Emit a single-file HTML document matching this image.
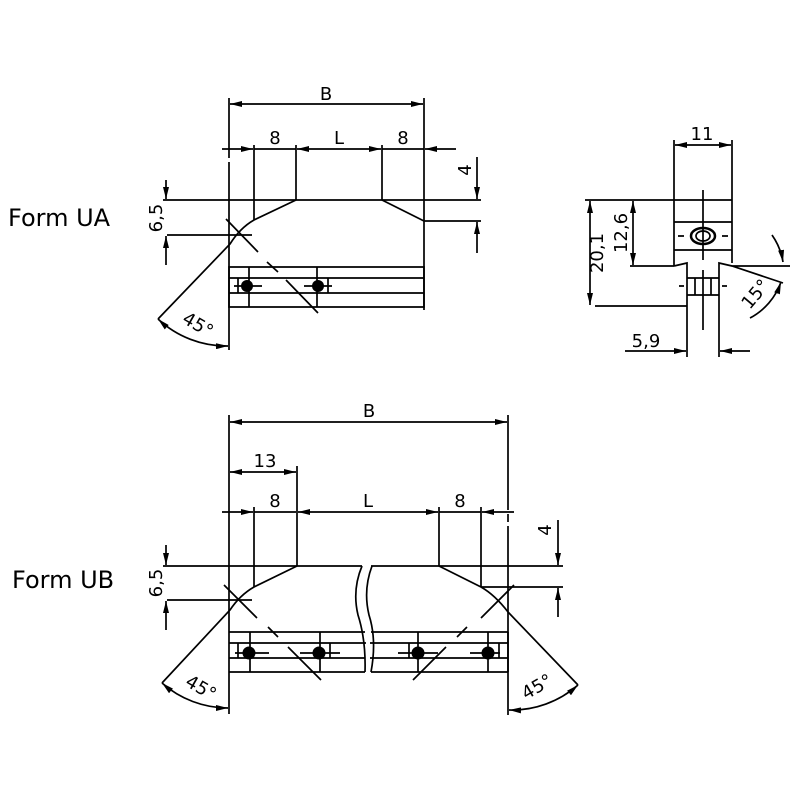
<!DOCTYPE html>
<html><head><style>body{margin:0;background:#fff}svg{display:block}text{font-family:"DejaVu Sans","Liberation Sans",sans-serif;fill:#000}</style></head><body>
<svg width="800" height="800" viewBox="0 0 800 800" xmlns="http://www.w3.org/2000/svg">
<defs>
<marker id="a" viewBox="0 0 12 6" refX="12" refY="3" markerWidth="12" markerHeight="6" markerUnits="userSpaceOnUse" orient="auto-start-reverse"><path d="M0,0L12,3L0,6z"/></marker>
</defs>
<g stroke="#000" stroke-width="1.7" fill="none">
<!-- ===== FORM UA ===== -->
<line x1="229" y1="98" x2="229" y2="350" stroke-dasharray="60,4,200,0"/>
<line x1="424" y1="98" x2="424" y2="310"/>
<line x1="230" y1="104" x2="423" y2="104" marker-start="url(#a)" marker-end="url(#a)"/>
<line x1="222" y1="149" x2="253" y2="149" marker-end="url(#a)"/>
<line x1="254" y1="149" x2="296" y2="149"/>
<line x1="297" y1="149" x2="381" y2="149" marker-start="url(#a)" marker-end="url(#a)"/>
<line x1="382" y1="149" x2="424" y2="149"/>
<line x1="456" y1="149" x2="425" y2="149" marker-end="url(#a)"/>
<line x1="254" y1="145" x2="254" y2="220"/>
<line x1="296" y1="145" x2="296" y2="200"/>
<line x1="382" y1="145" x2="382" y2="200"/>
<path d="M163,200H481M167,235H252M424,221H481"/>
<path d="M296,200L254,220Q240,228 230,244L158,319"/>
<path d="M382,200L424,221"/>
<line x1="166" y1="180" x2="166" y2="199" marker-end="url(#a)"/>
<line x1="166" y1="265" x2="166" y2="236" marker-end="url(#a)"/>
<line x1="477" y1="157" x2="477" y2="199" marker-end="url(#a)"/>
<line x1="477" y1="253" x2="477" y2="222" marker-end="url(#a)"/>
<path d="M229,267H424V307H229ZM229,278H424M229,293H424M238,278V293M328,278V293M249,267V307M317,267V307"/>
<path d="M226,219L258,252M267,262L278,272M286,280L318,313"/>
<path d="M234,286H262M304,286H332"/>
<path d="M158,319 A100,100 0 0 0 228,346" marker-start="url(#a)" marker-end="url(#a)"/>
<!-- ===== RIGHT VIEW ===== -->
<path d="M674,140V266M732,140V263"/>
<line x1="675" y1="145" x2="731" y2="145" marker-start="url(#a)" marker-end="url(#a)"/>
<path d="M585,200H732M630,266H674M595,306H687"/>
<line x1="590" y1="201" x2="590" y2="305" marker-start="url(#a)" marker-end="url(#a)"/>
<line x1="633" y1="201" x2="633" y2="265" marker-start="url(#a)" marker-end="url(#a)"/>
<path d="M674,222H732M674,250H732"/>
<path d="M674,266L687,263V357M719,357V263L732,266L783,283M732,266H790"/>
<path d="M703,190V260M703,270V330M678,236H684M722,236H728M679,286H684M722,286H727"/>
<ellipse cx="703" cy="236" rx="12" ry="8" stroke-width="2.5"/>
<ellipse cx="703" cy="236" rx="7" ry="5"/>
<path d="M687,278H719M687,295H719M695,278V295M711,278V295"/>
<line x1="625" y1="351" x2="686" y2="351" marker-end="url(#a)"/>
<line x1="750" y1="351" x2="720" y2="351" marker-end="url(#a)"/>
<path d="M772,235 A65,65 0 0 1 783,262" marker-end="url(#a)"/>
<path d="M750,318 A65,65 0 0 0 781,282" marker-end="url(#a)"/>
<!-- ===== FORM UB ===== -->
<line x1="229" y1="415" x2="229" y2="714"/>
<line x1="508" y1="415" x2="508" y2="715" stroke-dasharray="95,4,8,4,200,0"/>
<line x1="230" y1="422" x2="507" y2="422" marker-start="url(#a)" marker-end="url(#a)"/>
<line x1="297" y1="466" x2="297" y2="566"/>
<line x1="230" y1="472" x2="296" y2="472" marker-start="url(#a)" marker-end="url(#a)"/>
<line x1="222" y1="512" x2="253" y2="512" marker-end="url(#a)"/>
<line x1="254" y1="512" x2="296" y2="512"/>
<line x1="298" y1="512" x2="438" y2="512" marker-start="url(#a)" marker-end="url(#a)"/>
<line x1="439" y1="512" x2="481" y2="512"/>
<line x1="514" y1="512" x2="482" y2="512" marker-end="url(#a)"/>
<path d="M254,507V587M439,507V566M481,507V587"/>
<path d="M163,566H362M371,566H563M167,600H252M481,587H563"/>
<path d="M297,566L254,587Q240,595 230,610L162,683"/>
<path d="M439,566L481,587Q495,595 508,612L578,685"/>
<path d="M362,566Q352,590 358,615Q366,640 365,672M372,566Q363,590 369,615Q377,640 371,672"/>
<line x1="166" y1="545" x2="166" y2="565" marker-end="url(#a)"/>
<line x1="166" y1="630" x2="166" y2="601" marker-end="url(#a)"/>
<line x1="558" y1="520" x2="558" y2="565" marker-end="url(#a)"/>
<line x1="558" y1="617" x2="558" y2="588" marker-end="url(#a)"/>
<path d="M229,632H365M229,643H366M229,658H365M229,672H365M371,632H508M370,643H508M370,658H508M371,672H508M508,632V672"/>
<path d="M238,643V658M330,643V658M250,632V672M320,632V672M409,643V658M499,643V658M418,632V672M488,632V672"/>
<path d="M235,653H269M300,653H340M398,653H438M470,653H500"/>
<path d="M224,585L257,618M268,627L278,637M288,647L321,680M514,585L481,618M467,627L457,637M446,647L413,680"/>
<path d="M162,683 A100,100 0 0 0 228,708" marker-start="url(#a)" marker-end="url(#a)"/>
<path d="M578,685 A100,100 0 0 1 509,710" marker-start="url(#a)" marker-end="url(#a)"/>
</g>
<g fill="#000">
<circle cx="247" cy="286" r="6"/><circle cx="318" cy="286" r="6"/>
<circle cx="249" cy="653" r="6.5"/><circle cx="319" cy="653" r="6.5"/><circle cx="418" cy="653" r="6.5"/><circle cx="488" cy="653" r="6.5"/>
</g>
<g font-size="18">
<text x="326" y="100" text-anchor="middle">B</text>
<text x="275" y="144" text-anchor="middle">8</text>
<text x="339" y="144" text-anchor="middle">L</text>
<text x="403" y="144" text-anchor="middle">8</text>
<text transform="translate(162,218) rotate(-90)" text-anchor="middle">6,5</text>
<text transform="translate(471,170) rotate(-90)" text-anchor="middle">4</text>
<text transform="translate(195,330) rotate(30)" text-anchor="middle">45°</text>
<text x="702" y="140" text-anchor="middle">11</text>
<text transform="translate(603,253) rotate(-90)" text-anchor="middle">20,1</text>
<text transform="translate(627,233) rotate(-90)" text-anchor="middle">12,6</text>
<text x="646" y="347" text-anchor="middle">5,9</text>
<text transform="translate(760,298) rotate(-50)" text-anchor="middle">15°</text>
<text x="369" y="417" text-anchor="middle">B</text>
<text x="265" y="467" text-anchor="middle">13</text>
<text x="275" y="507" text-anchor="middle">8</text>
<text x="368" y="507" text-anchor="middle">L</text>
<text x="460" y="507" text-anchor="middle">8</text>
<text transform="translate(162,583) rotate(-90)" text-anchor="middle">6,5</text>
<text transform="translate(551,530) rotate(-90)" text-anchor="middle">4</text>
<text transform="translate(198,693) rotate(30)" text-anchor="middle">45°</text>
<text transform="translate(540,692) rotate(-30)" text-anchor="middle">45°</text>
</g>
<g font-size="24">
<text x="8" y="226">Form UA</text>
<text x="12" y="588">Form UB</text>
</g>
</svg>
</body></html>
